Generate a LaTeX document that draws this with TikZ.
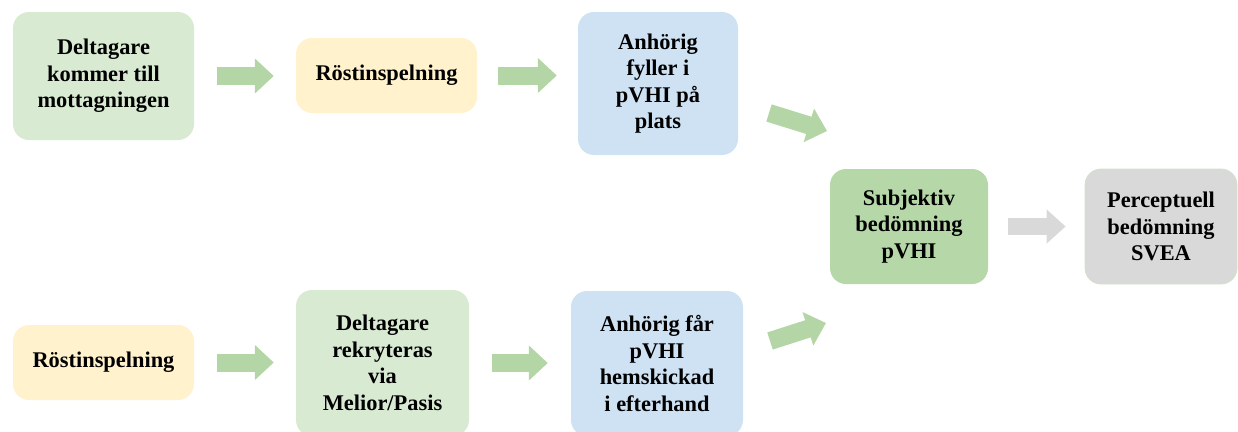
\documentclass[tikz,border=0pt]{standalone}
\usepackage{fontspec}
\setmainfont{Liberation Serif}
\usetikzlibrary{arrows.meta,calc}
\definecolor{lgreen}{HTML}{D9EAD3}
\definecolor{lyellow}{HTML}{FFF2CC}
\definecolor{lblue}{HTML}{CFE2F3}
\definecolor{mgreen}{HTML}{B6D7A8}
\definecolor{lgray}{HTML}{D9D9D9}
\definecolor{agreen}{HTML}{B4D6A6}
\definecolor{agray}{HTML}{D9D9D9}
\definecolor{edgegreen}{HTML}{CFE3C6}
\begin{document}
\begin{tikzpicture}[x=1pt,y=-1pt,
  box/.style={rounded corners=16pt, inner sep=0pt, align=center,
    font=\fontsize{22.4}{26.5}\selectfont\bfseries, text=black},
  barrow/.style={draw=agreen, line width=18pt, line cap=butt,
    -{Triangle[width=34pt,length=19pt]}},
  garrow/.style={draw=agray, line width=17pt, line cap=butt,
    -{Triangle[width=33pt,length=19pt]}}
]
\useasboundingbox (0,0) rectangle (1238,431);
\clip (0,0) rectangle (1238,431);

% boxes
\node[box, fill=lgreen, minimum width=181pt, minimum height=128pt] (b1) at (103.5,76) {Deltagare\\kommer till\\mottagningen};
\node[box, fill=lyellow, minimum width=181pt, minimum height=75pt] (b2) at (386.5,75.5) {Röstinspelning};
\node[box, fill=lblue, minimum width=160pt, minimum height=143pt] (b3) at (658,83.5) {Anhörig\\fyller i\\pVHI på\\plats};
\node[box, fill=mgreen, minimum width=158pt, minimum height=115pt] (b4) at (909,226.5) {Subjektiv\\bedömning\\pVHI};
\node[box, fill=lgray, draw=edgegreen, line width=0.8pt, minimum width=152pt, minimum height=115pt] (b5) at (1161,226.5) {Perceptuell\\bedömning\\SVEA};
\node[box, fill=lyellow, minimum width=181pt, minimum height=75pt] (b6) at (103.5,362.5) {Röstinspelning};
\node[box, fill=lgreen, minimum width=173pt, minimum height=146pt] (b7) at (382.5,363) {Deltagare\\rekryteras\\via\\Melior/Pasis};
\node[box, fill=lblue, minimum width=172pt, minimum height=145pt] (b8) at (657,363.5) {Anhörig får\\pVHI\\hemskickad\\i efterhand};

% horizontal block arrows
\draw[barrow, shorten <=23pt, shorten >=22pt] (b1.east) -- (b1.east -| b2.west);
\draw[barrow, shorten <=21pt, shorten >=21pt] (b2.east) -- (b2.east -| b3.west);
\draw[barrow, shorten <=23pt, shorten >=22pt] (b6.east) -- (b6.east -| b7.west);
\draw[barrow, shorten <=23pt, shorten >=23pt] (b7.east) -- (b7.east -| b8.west);
\draw[garrow, shorten <=20pt, shorten >=19pt] (b4.east) -- (b4.east -| b5.west);

% diagonal block arrows
\coordinate (d1s) at (769,113);
\coordinate (d1e) at (827,131);
\coordinate (d2s) at (770,341);
\coordinate (d2e) at (826,323);
\draw[barrow] (d1s) -- (d1e);
\draw[barrow] (d2s) -- (d2e);
\end{tikzpicture}
\end{document}
